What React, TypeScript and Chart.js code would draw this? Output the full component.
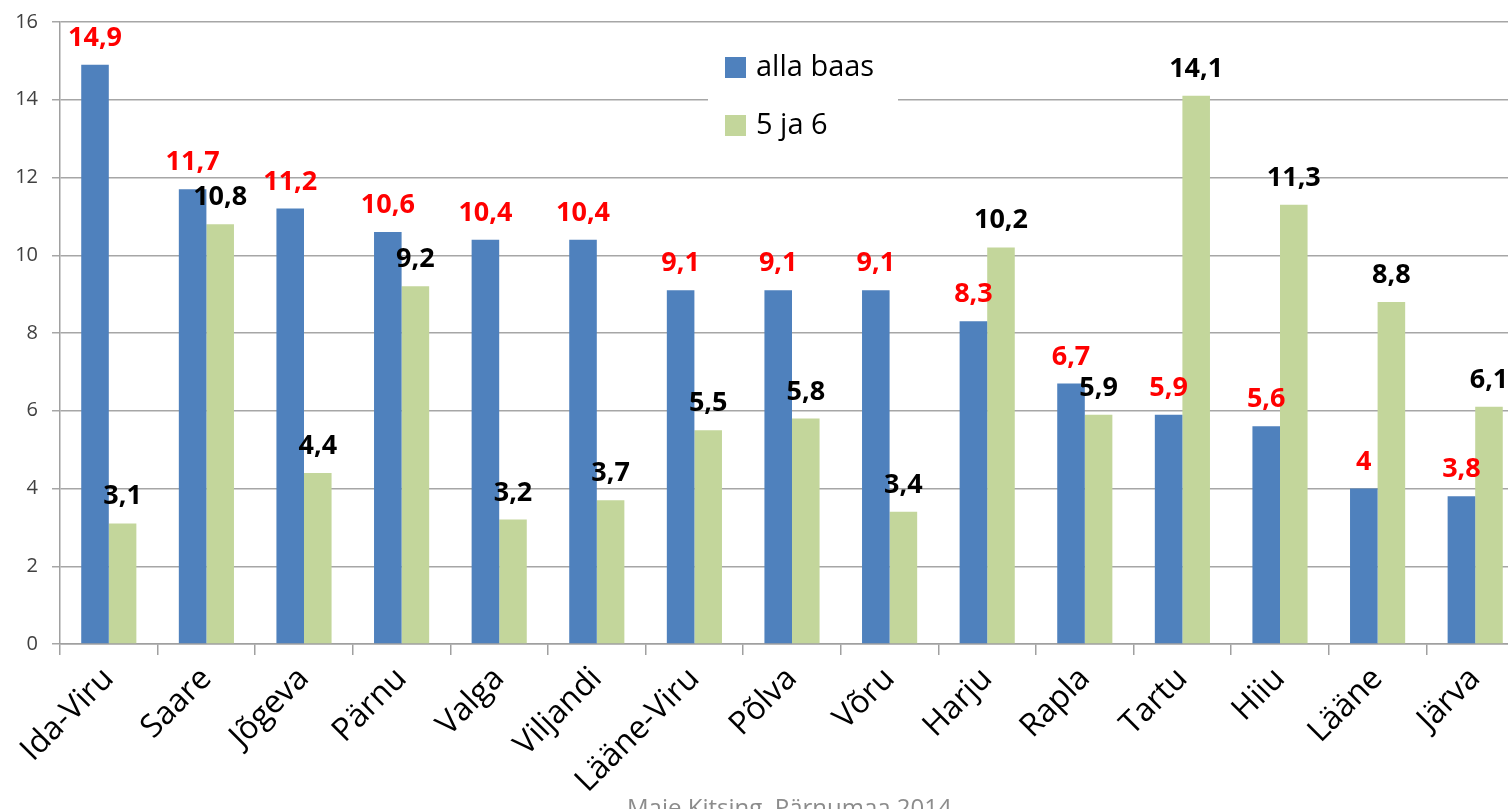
import React, { useEffect, useRef } from "react";
import { Chart, registerables } from "chart.js";

Chart.register(...registerables);

const categories = ["Ida-Viru", "Saare", "Jõgeva", "Pärnu", "Valga", "Viljandi", "Lääne-Viru", "Põlva", "Võru", "Harju", "Rapla", "Tartu", "Hiiu", "Lääne", "Järva"];
const allaBaas = [14.9, 11.7, 11.2, 10.6, 10.4, 10.4, 9.1, 9.1, 9.1, 8.3, 6.7, 5.9, 5.6, 4, 3.8];
const viisJaKuus = [3.1, 10.8, 4.4, 9.2, 3.2, 3.7, 5.5, 5.8, 3.4, 10.2, 5.9, 14.1, 11.3, 8.8, 6.1];
const seriesNames = ["alla baas", "5 ja 6"];
const seriesColors = ["#4F81BD", "#C3D69B"];
const labelColors = ["#FF0000", "#000000"];
const yMin = 0;
const yMax = 16;
const yStep = 2;
const footerText = "Maie Kitsing, Pärnumaa 2014";

const FONT = "'Open Sans', 'Noto Sans', sans-serif";

const fmt = (v: number) => String(v).replace(".", ",");

const dataLabelPlugin = {
  id: "dataLabels",
  afterDatasetsDraw(chart: any) {
    const ctx = chart.ctx;
    ctx.save();
    ctx.font = `bold 27px ${FONT}`;
    ctx.textAlign = "center";
    ctx.textBaseline = "alphabetic";
    chart.data.datasets.forEach((ds: any, di: number) => {
      const meta = chart.getDatasetMeta(di);
      meta.data.forEach((el: any, i: number) => {
        ctx.fillStyle = labelColors[di];
        ctx.fillText(fmt(ds.data[i]), el.x, el.y - 19);
      });
    });
    ctx.restore();
  },
};

const legendPlugin = {
  id: "customLegend",
  afterDraw(chart: any) {
    const ctx = chart.ctx;
    ctx.save();
    ctx.fillStyle = "#FFFFFF";
    ctx.fillRect(708, 36, 190, 116);
    ctx.font = `29px ${FONT}`;
    ctx.textAlign = "left";
    ctx.textBaseline = "middle";
    seriesNames.forEach((name, i) => {
      const cy = 67 + i * 58;
      ctx.fillStyle = seriesColors[i];
      ctx.fillRect(725, cy - 10, 21, 21);
      ctx.fillStyle = "#000000";
      ctx.fillText(name, 756, cy + 1);
    });
    ctx.restore();
  },
};

export default function App() {
  const canvasRef = useRef<HTMLCanvasElement | null>(null);

  useEffect(() => {
    if (!canvasRef.current) return;
    const chart = new Chart(canvasRef.current, {
      type: "bar",
      data: {
        labels: categories,
        datasets: [
          { label: seriesNames[0], data: allaBaas, backgroundColor: seriesColors[0], categoryPercentage: 0.565, barPercentage: 1 },
          { label: seriesNames[1], data: viisJaKuus, backgroundColor: seriesColors[1], categoryPercentage: 0.565, barPercentage: 1 },
        ],
      },
      options: {
        responsive: false,
        animation: false,
        layout: { padding: { top: 22, right: 0, left: 0, bottom: 0 } },
        plugins: {
          legend: { display: false },
          tooltip: { enabled: false },
        },
        scales: {
          x: {
            afterFit(scale: any) { scale.height = 165; },
            grid: { drawOnChartArea: false, drawTicks: true, tickLength: 11, color: "#A0A0A0", lineWidth: 1.5, offset: true },
            border: { color: "#A0A0A0", width: 1.5 },
            ticks: { color: "#000000", font: { family: FONT, size: 32 }, maxRotation: 45, minRotation: 45, padding: 5, autoSkip: false },
          },
          y: {
            min: yMin,
            max: yMax,
            afterFit(scale: any) {
              scale.width = 60;
              scale.paddingTop = 10;
              scale.paddingBottom = 10;
            },
            grid: { color: "#A6A6A6", lineWidth: 1.5, tickLength: 8 },
            border: { color: "#A0A0A0", width: 1.5 },
            ticks: { stepSize: yStep, color: "#404040", font: { family: FONT, size: 20 }, padding: 14 },
          },
        },
      },
      plugins: [dataLabelPlugin, legendPlugin],
    });
    return () => chart.destroy();
  }, []);

  return (
    <div style={{ position: "fixed", left: 0, top: 0, width: 1508, height: 809, overflow: "hidden", background: "#FFFFFF" }}>
      <canvas ref={canvasRef} width={1524} height={809} style={{ display: "block" }} />
      <div style={{ position: "absolute", left: 627, top: 792, fontFamily: FONT, fontSize: 24, lineHeight: "30px", color: "#8C8C8C", whiteSpace: "nowrap" }}>
        {footerText}
      </div>
    </div>
  );
}
